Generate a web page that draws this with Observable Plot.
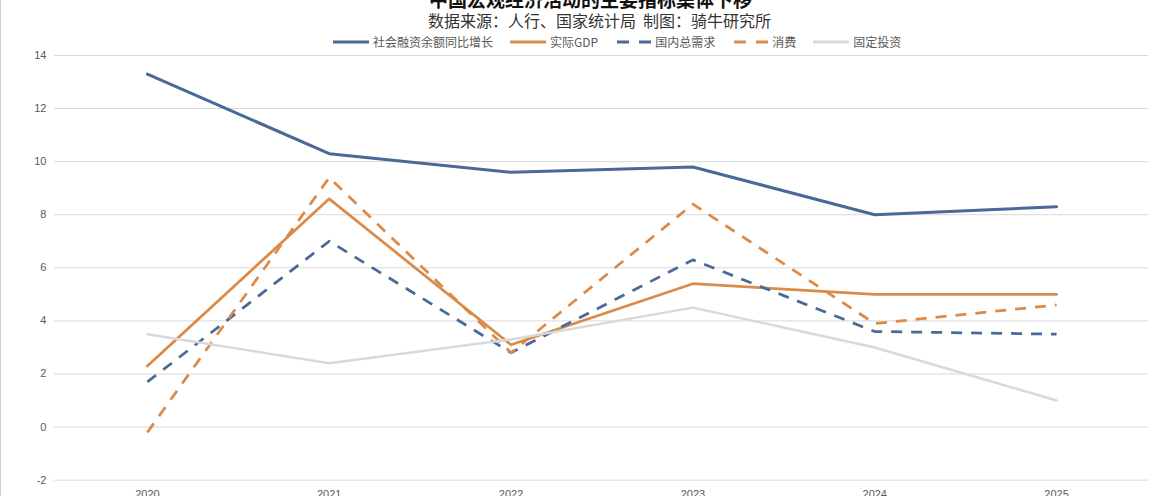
<!DOCTYPE html>
<html>
<head>
<meta charset="utf-8">
<script src="https://cdn.jsdelivr.net/npm/d3@7"></script>
<script src="https://cdn.jsdelivr.net/npm/@observablehq/plot@0.6"></script>
<style>
  html, body { margin: 0; padding: 0; background: #fff; }
  #wrap { position: relative; width: 1165px; height: 496px; overflow: hidden; background: #fff; box-sizing: border-box; border-left: 1px solid #d4d4d4; }
  #head { position: relative; height: 50px; }
  #title { position: absolute; left: 7px; width: 1165px; top: -11px; text-align: center; font: bold 19px/20px "Noto Sans CJK SC", sans-serif; color: #111; }
  #subtitle { position: absolute; left: 16px; width: 1165px; top: 11px; text-align: center; font: 16px/18px "Noto Sans CJK SC", sans-serif; color: #333; }
  #legend { position: absolute; left: 332px; top: 34px; height: 16px; display: flex; align-items: center; font: 12px/16px "Noto Sans CJK SC", sans-serif; color: #595959; white-space: nowrap; }
  .item { display: flex; align-items: center; margin-right: 17px; }
  .item svg { margin-right: 4px; }
  #chart { position: absolute; left: 0; top: 50px; }
</style>
</head>
<body>
<div id="wrap">
  <div id="head">
    <div id="title">中国宏观经济活动的主要指标集体下移</div>
    <div id="subtitle">数据来源：人行、国家统计局&nbsp;&nbsp;制图：骑牛研究所</div>
    <div id="legend"></div>
  </div>
  <div id="chart"></div>
</div>
<script>
// ---- data ----
const years = ["2020", "2021", "2022", "2023", "2024", "2025"];
const seriesNames = ["社会融资余额同比增长", "实际GDP", "国内总需求", "消费", "固定投资"];
const socialFinancing = [13.3, 10.3, 9.6, 9.8, 8.0, 8.3];
const realGDP = [2.3, 8.6, 3.1, 5.4, 5.0, 5.0];
const domesticDemand = [1.7, 7.0, 2.8, 6.3, 3.6, 3.5];
const consumption = [-0.2, 9.4, 2.8, 8.4, 3.9, 4.6];
const fixedInvestment = [3.5, 2.4, 3.3, 4.5, 3.0, 1.0];
const yTicks = [-2, 0, 2, 4, 6, 8, 10, 12, 14];

// ---- styles ----
const BLUE = "#4a6898", ORANGE = "#dc8a48", GRAY = "#d9d9d9";
const styles = {
  "社会融资余额同比增长": {stroke: BLUE, strokeWidth: 3, dash: null},
  "实际GDP": {stroke: ORANGE, strokeWidth: 2.75, dash: null},
  "国内总需求": {stroke: BLUE, strokeWidth: 2.75, dash: "11,9"},
  "消费": {stroke: ORANGE, strokeWidth: 2.75, dash: "11,9"},
  "固定投资": {stroke: GRAY, strokeWidth: 2.5, dash: null}
};
const valuesBySeries = [socialFinancing, realGDP, domesticDemand, consumption, fixedInvestment];

const rows = [];
seriesNames.forEach((name, i) => {
  years.forEach((yr, j) => rows.push({series: name, year: yr, value: valuesBySeries[i][j]}));
});

// ---- legend ----
const legend = document.getElementById("legend");
seriesNames.forEach(name => {
  const s = styles[name];
  const item = document.createElement("div");
  item.className = "item";
  const dashAttr = s.dash ? ` stroke-dasharray="12,10" stroke-dashoffset="-2"` : "";
  item.innerHTML = `<svg width="36" height="8"><line x1="0" x2="36" y1="4" y2="4" stroke="${s.stroke}" stroke-width="3"${dashAttr}/></svg><span>${name}</span>`;
  legend.appendChild(item);
});

// ---- chart ----
const lineMarks = seriesNames.map(name => {
  const s = styles[name];
  return Plot.line(rows.filter(d => d.series === name), {
    x: "year", y: "value",
    stroke: s.stroke, strokeWidth: s.strokeWidth,
    strokeDasharray: s.dash || undefined,
    strokeLinecap: s.dash ? "butt" : "round",
    strokeLinejoin: "round"
  });
});

const chart = Plot.plot({
  width: 1165,
  height: 450,
  marginTop: 5,
  marginBottom: 20,
  marginLeft: 53,
  marginRight: 17,
  x: {type: "point", domain: years, padding: 0.5, label: null},
  y: {domain: [-2, 14], ticks: yTicks, label: null},
  style: {fontFamily: "'Liberation Sans', Arial, sans-serif", fontSize: "11px", color: "#595959", background: "transparent", overflow: "visible"},
  marks: [
    Plot.gridY(yTicks, {stroke: "#d9d9d9", strokeOpacity: 1, strokeWidth: 1}),
    Plot.axisY(yTicks, {tickSize: 0, tickPadding: 8, fill: "#595959", label: null, tickFormat: d => String(d)}),
    Plot.axisX({tickSize: 0, tickPadding: 10, fill: "#595959", label: null}),
    ...lineMarks
  ]
});
document.getElementById("chart").appendChild(chart);
</script>
</body>
</html>
